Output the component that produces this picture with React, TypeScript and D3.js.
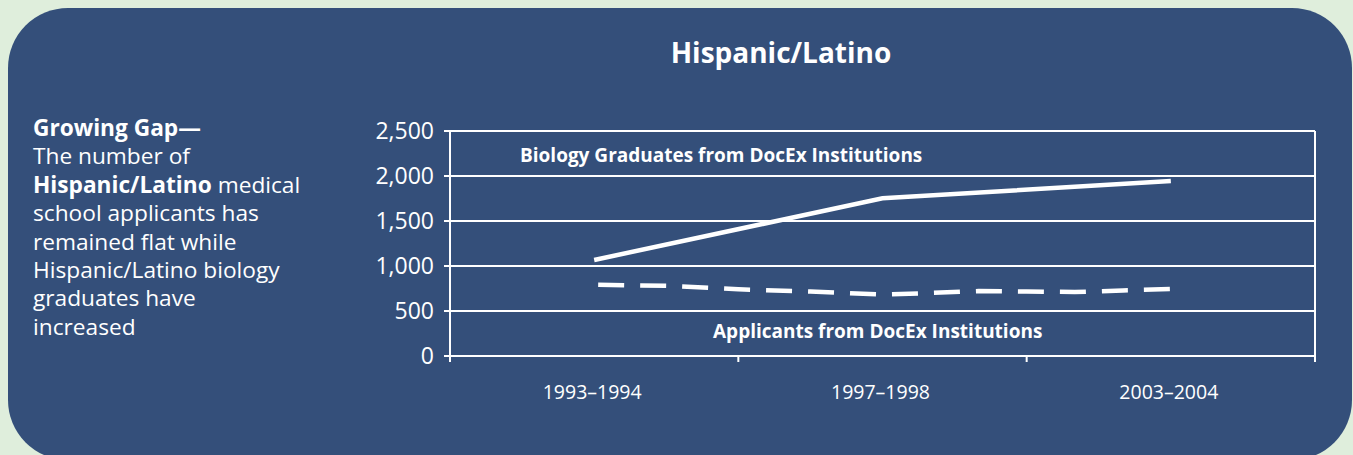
import React from "react";
import * as d3 from "d3";

const categories = ["1993–1994", "1997–1998", "2003–2004"];
const yTicks = [0, 500, 1000, 1500, 2000, 2500];
const biologyGraduates = [1067, 1752, 1944];
const applicantYears = [1993, 1994, 1995, 1996, 1997, 1998, 1999, 2000, 2001, 2002, 2003];
const applicantValues = [792, 780, 741, 717, 683, 700, 722, 717, 711, 728, 744];
const categoryStartYears = [1993, 1997, 2003];

const W = 1353;
const H = 455;
const BG = "#dfeedc";
const PANEL = "#344f7a";
const FONT = "'Open Sans', 'Noto Sans', sans-serif";

export default function App() {
  const plotL = 450;
  const plotR = 1315;
  const plotT = 131;
  const plotB = 356;

  const x = d3.scaleBand<string>().domain(categories).range([plotL, plotR]).padding(0);
  const y = d3.scaleLinear().domain([0, 2500]).range([plotB, plotT]);
  const centers = categories.map((c) => (x(c) as number) + x.bandwidth() / 2);
  const yearX = d3.scaleLinear().domain(categoryStartYears).range(centers);

  const line = d3.line<[number, number]>().x((d) => d[0]).y((d) => d[1]);
  const bioPts: [number, number][] = biologyGraduates.map((v, i) => [centers[i], y(v)]);
  const appPts: [number, number][] = applicantValues.map((v, i) => [yearX(applicantYears[i]), y(v)]);

  const boundaries = [...categories.map((c) => x(c) as number), plotR];

  const leftLines: { parts: { t: string; b?: boolean }[] }[] = [
    { parts: [{ t: "Growing Gap—", b: true }] },
    { parts: [{ t: "The number of" }] },
    { parts: [{ t: "Hispanic/Latino", b: true }, { t: " medical" }] },
    { parts: [{ t: "school applicants has" }] },
    { parts: [{ t: "remained flat while" }] },
    { parts: [{ t: "Hispanic/Latino biology" }] },
    { parts: [{ t: "graduates have" }] },
    { parts: [{ t: "increased" }] },
  ];

  return (
    <svg
      width={W}
      height={H}
      style={{ position: "absolute", left: 0, top: 0, display: "block" }}
      fontFamily={FONT}
    >
      <rect x={0} y={0} width={W} height={H} fill={BG} />
      <rect x={8} y={8} width={1344} height={452} rx={60} ry={60} fill={PANEL} />

      <text x={781} y={63} textAnchor="middle" fill="#fff" fontSize={28} fontWeight={700}>
        Hispanic/Latino
      </text>

      {leftLines.map((ln, i) => (
        <text key={i} x={33} y={136 + i * 28.4} fill="#fff" fontSize={22.7}>
          {ln.parts.map((p, j) => (
            <tspan key={j} fontWeight={p.b ? 700 : 400}>
              {p.t}
            </tspan>
          ))}
        </text>
      ))}

      {/* gridlines */}
      {yTicks.map((t) => (
        <line key={t} x1={plotL - 6} x2={plotR} y1={y(t)} y2={y(t)} stroke="#fff" strokeWidth={2} />
      ))}
      {/* y axis and right border */}
      <line x1={plotL} x2={plotL} y1={plotT} y2={plotB + 6} stroke="#fff" strokeWidth={2} />
      {boundaries.map((b, i) => (
        <line
          key={i}
          x1={b}
          x2={b}
          y1={i === boundaries.length - 1 ? plotT : plotB}
          y2={plotB + 6}
          stroke="#fff"
          strokeWidth={2}
        />
      ))}

      {yTicks.map((t) => (
        <text key={t} x={434} y={y(t) + 7.5} textAnchor="end" fill="#fff" fontSize={23}>
          {d3.format(",")(t)}
        </text>
      ))}

      {categories.map((c, i) => (
        <text key={c} x={centers[i] - 2} y={399} textAnchor="middle" fill="#fff" fontSize={19.5}>
          {c}
        </text>
      ))}

      <path d={line(bioPts) || ""} fill="none" stroke="#fff" strokeWidth={4.5} />
      <path
        d={line(appPts) || ""}
        fill="none"
        stroke="#fff"
        strokeWidth={4.5}
        strokeDasharray="26 16"
        strokeDashoffset={38}
      />

      <text x={520} y={162} fill="#fff" fontSize={19} fontWeight={700}>
        Biology Graduates from DocEx Institutions
      </text>
      <text x={713} y={338} fill="#fff" fontSize={19} fontWeight={700}>
        Applicants from DocEx Institutions
      </text>
    </svg>
  );
}
